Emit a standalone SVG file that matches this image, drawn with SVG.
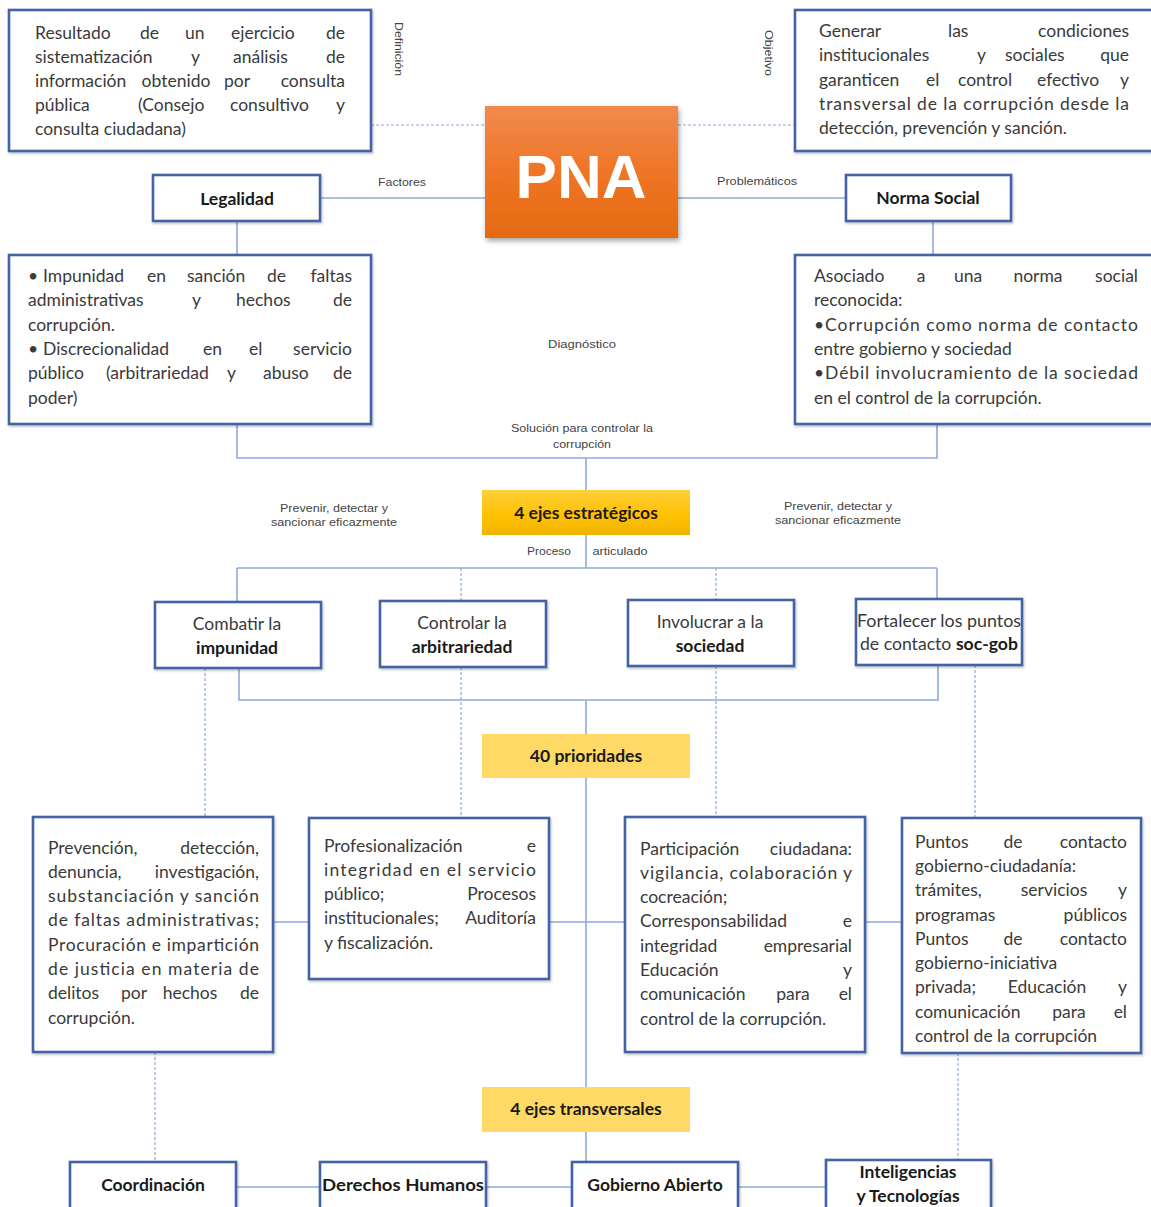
<svg xmlns="http://www.w3.org/2000/svg" width="1151" height="1207" viewBox="0 0 1151 1207">
<defs>
<linearGradient id="gOr" x1="0" y1="0" x2="0" y2="1"><stop offset="0" stop-color="#f08b4e"/><stop offset="0.5" stop-color="#ef7526"/><stop offset="1" stop-color="#e56a10"/></linearGradient>
<linearGradient id="gYe" x1="0" y1="0" x2="0" y2="1"><stop offset="0" stop-color="#ffcf3a"/><stop offset="0.6" stop-color="#ffc000"/><stop offset="1" stop-color="#f0b400"/></linearGradient>
<filter id="sh" x="-10%" y="-10%" width="125%" height="130%"><feDropShadow dx="1.5" dy="3" stdDeviation="2.5" flood-color="#000" flood-opacity="0.35"/></filter>
<filter id="bs" x="-5%" y="-5%" width="110%" height="115%"><feDropShadow dx="1" dy="1.5" stdDeviation="1" flood-color="#000" flood-opacity="0.25"/></filter>
</defs>
<style>
.box{fill:#fff;stroke:#4464a4;stroke-width:2.6}
.t{font-family:Lato,"Open Sans",sans-serif;font-size:17.5px;fill:#3a3a3a}
.e{text-anchor:end}
.c{text-anchor:middle}
.b{font-family:Lato,"Open Sans",sans-serif;font-size:17.5px;font-weight:bold;fill:#1a1a1a;text-anchor:middle}
.bb{font-weight:bold;fill:#1a1a1a}
.s{font-family:"Liberation Sans",Arial,sans-serif;font-size:11px;fill:#444;text-anchor:middle}
.ln{fill:none;stroke:#8eaadb;stroke-width:1.6}
.dl{fill:none;stroke:#8eaadb;stroke-width:1.2;stroke-dasharray:3 2}
</style>

<g id="connectors">
<path class="dl" d="M371,125H485M678,125H795"/>
<path class="ln" d="M320,198H485M678,198H846M237,221V255M933,221V255M237,424V458H937V424M586,458V490M586,535V568M237,568H937M237,568V602M937,568V599"/>
<path class="dl" d="M461,568V601M716,568V600"/>
<path class="ln" d="M239,668V700H938V665M586,700V734M586,778V1087"/>
<path class="dl" d="M205,668V817M461,667V818M716,666V817M975,665V818"/>
<path class="ln" d="M273,922H309M549,922H625M865,922H902"/>
<path class="dl" d="M155,1052V1162M958,1053V1160"/>
<path class="ln" d="M586,1132V1162M236,1187H320M486,1187H572M738,1187H826"/>
</g>

<g id="labels">
<text class="s" transform="translate(395,49) rotate(90)" textLength="54" lengthAdjust="spacingAndGlyphs">Definición</text>
<text class="s" transform="translate(765,53) rotate(90)" textLength="46" lengthAdjust="spacingAndGlyphs">Objetivo</text>
<text class="s" x="402" y="186" textLength="48" lengthAdjust="spacingAndGlyphs">Factores</text>
<text class="s" x="757" y="185" textLength="80" lengthAdjust="spacingAndGlyphs">Problemáticos</text>
<text class="s" x="582" y="348" textLength="68" lengthAdjust="spacingAndGlyphs">Diagnóstico</text>
<text class="s" x="582" y="432" textLength="142" lengthAdjust="spacingAndGlyphs">Solución para controlar la</text>
<text class="s" x="582" y="448" textLength="58" lengthAdjust="spacingAndGlyphs">corrupción</text>
<text class="s" x="334" y="512" textLength="108" lengthAdjust="spacingAndGlyphs">Prevenir, detectar y</text>
<text class="s" x="334" y="526" textLength="126" lengthAdjust="spacingAndGlyphs">sancionar eficazmente</text>
<text class="s" x="838" y="510" textLength="108" lengthAdjust="spacingAndGlyphs">Prevenir, detectar y</text>
<text class="s" x="838" y="524" textLength="126" lengthAdjust="spacingAndGlyphs">sancionar eficazmente</text>
<text class="s" x="549" y="555" textLength="44" lengthAdjust="spacingAndGlyphs">Proceso</text>
<text class="s" x="620" y="555" textLength="55" lengthAdjust="spacingAndGlyphs">articulado</text>
</g>

<g id="pna">
<rect x="485" y="106" width="193" height="132" fill="url(#gOr)" filter="url(#sh)"/>
<text x="581" y="198" font-family="'Liberation Sans',Arial,sans-serif" font-weight="bold" font-size="62" fill="#fff" text-anchor="middle">PNA</text>
</g>

<g id="definicion">
<rect class="box" x="9" y="10" width="362" height="141" filter="url(#bs)"/>
<text class="t" y="39"><tspan x="35">Resultado</tspan><tspan x="140">de</tspan><tspan x="185">un</tspan><tspan x="231">ejercicio</tspan></text>
<text class="t e" x="345" y="39">de</text>
<text class="t" y="63"><tspan x="35">sistematización</tspan><tspan x="191">y</tspan><tspan x="233">análisis</tspan></text>
<text class="t e" x="345" y="63">de</text>
<text class="t" x="35" y="87">información</text>
<text class="t c" x="176" y="87">obtenido</text>
<text class="t c" x="237" y="87">por</text>
<text class="t e" x="345" y="87">consulta</text>
<text class="t" y="111"><tspan x="35">pública</tspan><tspan x="138">(Consejo</tspan><tspan x="230">consultivo</tspan></text>
<text class="t e" x="345" y="111">y</text>
<text class="t" x="35" y="135">consulta ciudadana)</text>
</g>

<g id="objetivo">
<rect class="box" x="795" y="10" width="370" height="141" filter="url(#bs)"/>
<text class="t" y="37"><tspan x="819">Generar</tspan><tspan x="948">las</tspan></text>
<text class="t e" x="1129" y="37">condiciones</text>
<text class="t" y="61"><tspan x="819">institucionales</tspan><tspan x="977">y</tspan><tspan x="1005">sociales</tspan></text>
<text class="t e" x="1129" y="61">que</text>
<text class="t" y="86"><tspan x="819">garanticen</tspan><tspan x="926">el</tspan><tspan x="958">control</tspan><tspan x="1037">efectivo</tspan></text>
<text class="t e" x="1129" y="86">y</text>
<text class="t" x="819" y="110" textLength="310" lengthAdjust="spacing">transversal de la corrupción desde la</text>
<text class="t" x="819" y="134">detección, prevención y sanción.</text>
</g>

<g id="legalidad">
<rect class="box" x="153" y="175" width="167" height="46" filter="url(#bs)"/>
<text class="b" x="237" y="205">Legalidad</text>
</g>

<g id="norma-social">
<rect class="box" x="846" y="175" width="165" height="46" filter="url(#bs)"/>
<text class="b" x="928" y="204">Norma Social</text>
</g>

<g id="factores-legalidad">
<rect class="box" x="9" y="255" width="362" height="169" filter="url(#bs)"/>
<text class="t" y="282"><tspan x="28">•</tspan><tspan x="43">Impunidad</tspan><tspan x="147">en</tspan><tspan x="187">sanción</tspan><tspan x="267">de</tspan></text>
<text class="t e" x="352" y="282">faltas</text>
<text class="t" y="306"><tspan x="28">administrativas</tspan><tspan x="192">y</tspan><tspan x="236">hechos</tspan></text>
<text class="t e" x="352" y="306">de</text>
<text class="t" x="28" y="331">corrupción.</text>
<text class="t" y="355"><tspan x="28">•</tspan><tspan x="43">Discrecionalidad</tspan><tspan x="203">en</tspan><tspan x="249">el</tspan></text>
<text class="t e" x="352" y="355">servicio</text>
<text class="t" y="379"><tspan x="28">público</tspan><tspan x="106">(arbitrariedad</tspan><tspan x="227">y</tspan><tspan x="263">abuso</tspan></text>
<text class="t e" x="352" y="379">de</text>
<text class="t" x="28" y="404">poder)</text>
</g>

<g id="factores-norma">
<rect class="box" x="795" y="255" width="370" height="169" filter="url(#bs)"/>
<text class="t" x="814" y="282">Asociado</text>
<text class="t c" x="921" y="282">a</text>
<text class="t c" x="968" y="282">una</text>
<text class="t c" x="1038" y="282">norma</text>
<text class="t e" x="1138" y="282">social</text>
<text class="t" x="814" y="306">reconocida:</text>
<text class="t" x="814" y="331" textLength="324" lengthAdjust="spacing">•Corrupción como norma de contacto</text>
<text class="t" x="814" y="355">entre gobierno y sociedad</text>
<text class="t" x="814" y="379" textLength="324" lengthAdjust="spacing">•Débil involucramiento de la sociedad</text>
<text class="t" x="814" y="404">en el control de la corrupción.</text>
</g>

<g id="ejes-estrategicos">
<rect x="482" y="490" width="208" height="45" fill="url(#gYe)"/>
<text class="b" x="586" y="519">4 ejes estratégicos</text>
</g>

<g id="combatir">
<rect class="box" x="155" y="602" width="166" height="66" filter="url(#bs)"/>
<text class="t c" x="237" y="630">Combatir la</text>
<text class="b" x="237" y="654">impunidad</text>
</g>
<g id="controlar">
<rect class="box" x="380" y="601" width="166" height="66" filter="url(#bs)"/>
<text class="t c" x="462" y="629">Controlar la</text>
<text class="b" x="462" y="653">arbitrariedad</text>
</g>
<g id="involucrar">
<rect class="box" x="628" y="600" width="166" height="66" filter="url(#bs)"/>
<text class="t c" x="710" y="628">Involucrar a la</text>
<text class="b" x="710" y="652">sociedad</text>
</g>
<g id="fortalecer">
<rect class="box" x="856" y="599" width="166" height="66" filter="url(#bs)"/>
<text class="t c" x="939" y="627" textLength="164" lengthAdjust="spacingAndGlyphs">Fortalecer los puntos</text>
<text class="t c" x="939" y="650" textLength="158" lengthAdjust="spacingAndGlyphs">de contacto <tspan class="bb">soc-gob</tspan></text>
</g>

<g id="prioridades">
<rect x="482" y="734" width="208" height="44" fill="#ffd966"/>
<text class="b" x="586" y="762">40 prioridades</text>
</g>

<g id="p-impunidad">
<rect class="box" x="33" y="817" width="240" height="235" filter="url(#bs)"/>
<text class="t" x="48" y="854">Prevención,</text>
<text class="t e" x="259" y="854">detección,</text>
<text class="t" x="48" y="878">denuncia,</text>
<text class="t e" x="259" y="878">investigación,</text>
<text class="t" x="48" y="902" textLength="211" lengthAdjust="spacing">substanciación y sanción</text>
<text class="t" x="48" y="926" textLength="211" lengthAdjust="spacing">de faltas administrativas;</text>
<text class="t" x="48" y="951" textLength="211" lengthAdjust="spacing">Procuración e impartición</text>
<text class="t" x="48" y="975" textLength="211" lengthAdjust="spacing">de justicia en materia de</text>
<text class="t" x="48" y="999">delitos</text>
<text class="t c" x="134" y="999">por</text>
<text class="t c" x="190" y="999">hechos</text>
<text class="t e" x="259" y="999">de</text>
<text class="t" x="48" y="1024">corrupción.</text>
</g>

<g id="p-arbitrariedad">
<rect class="box" x="309" y="818" width="240" height="161" filter="url(#bs)"/>
<text class="t" x="324" y="852">Profesionalización</text>
<text class="t e" x="536" y="852">e</text>
<text class="t" x="324" y="876" textLength="212" lengthAdjust="spacing">integridad en el servicio</text>
<text class="t" x="324" y="900">público;</text>
<text class="t e" x="536" y="900">Procesos</text>
<text class="t" x="324" y="924">institucionales;</text>
<text class="t e" x="536" y="924">Auditoría</text>
<text class="t" x="324" y="949">y fiscalización.</text>
</g>

<g id="p-sociedad">
<rect class="box" x="625" y="817" width="240" height="235" filter="url(#bs)"/>
<text class="t" x="640" y="855">Participación</text>
<text class="t e" x="852" y="855">ciudadana:</text>
<text class="t" x="640" y="879" textLength="212" lengthAdjust="spacing">vigilancia, colaboración y</text>
<text class="t" x="640" y="903">cocreación;</text>
<text class="t" x="640" y="927">Corresponsabilidad</text>
<text class="t e" x="852" y="927">e</text>
<text class="t" x="640" y="952">integridad</text>
<text class="t e" x="852" y="952">empresarial</text>
<text class="t" x="640" y="976">Educación</text>
<text class="t e" x="852" y="976">y</text>
<text class="t" x="640" y="1000">comunicación</text>
<text class="t c" x="793" y="1000">para</text>
<text class="t e" x="852" y="1000">el</text>
<text class="t" x="640" y="1025">control de la corrupción.</text>
</g>

<g id="p-contacto">
<rect class="box" x="902" y="818" width="239" height="235" filter="url(#bs)"/>
<text class="t" x="915" y="848">Puntos</text>
<text class="t c" x="1013" y="848">de</text>
<text class="t e" x="1127" y="848">contacto</text>
<text class="t" x="915" y="872">gobierno-ciudadanía:</text>
<text class="t" x="915" y="896">trámites,</text>
<text class="t c" x="1054" y="896">servicios</text>
<text class="t e" x="1127" y="896">y</text>
<text class="t" x="915" y="921">programas</text>
<text class="t e" x="1127" y="921">públicos</text>
<text class="t" x="915" y="945">Puntos</text>
<text class="t c" x="1013" y="945">de</text>
<text class="t e" x="1127" y="945">contacto</text>
<text class="t" x="915" y="969">gobierno-iniciativa</text>
<text class="t" x="915" y="993">privada;</text>
<text class="t c" x="1047" y="993">Educación</text>
<text class="t e" x="1127" y="993">y</text>
<text class="t" x="915" y="1018">comunicación</text>
<text class="t c" x="1069" y="1018">para</text>
<text class="t e" x="1127" y="1018">el</text>
<text class="t" x="915" y="1042">control de la corrupción</text>
</g>

<g id="ejes-transversales">
<rect x="482" y="1087" width="208" height="45" fill="#ffd966"/>
<text class="b" x="586" y="1115">4 ejes transversales</text>
</g>

<g id="coordinacion">
<rect class="box" x="70" y="1162" width="166" height="60" filter="url(#bs)"/>
<text class="b" x="153" y="1191">Coordinación</text>
</g>
<g id="derechos-humanos">
<rect class="box" x="320" y="1162" width="166" height="60" filter="url(#bs)"/>
<text class="b" x="403" y="1191" textLength="162" lengthAdjust="spacingAndGlyphs">Derechos Humanos</text>
</g>
<g id="gobierno-abierto">
<rect class="box" x="572" y="1162" width="166" height="60" filter="url(#bs)"/>
<text class="b" x="655" y="1191">Gobierno Abierto</text>
</g>
<g id="inteligencias">
<rect class="box" x="826" y="1160" width="165" height="62" filter="url(#bs)"/>
<text class="b" x="908" y="1178">Inteligencias</text>
<text class="b" x="908" y="1202">y Tecnologías</text>
</g>
</svg>
